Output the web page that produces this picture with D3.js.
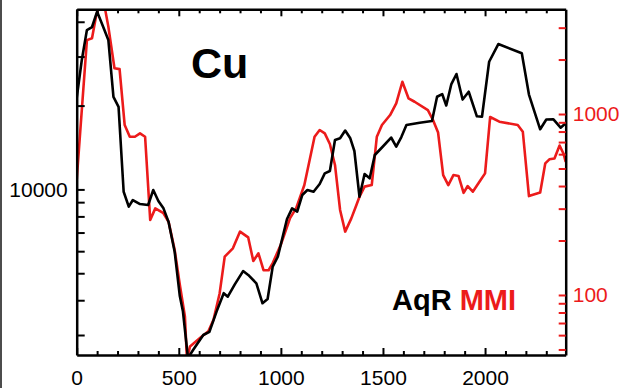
<!DOCTYPE html>
<html>
<head>
<meta charset="utf-8">
<script src="https://cdn.jsdelivr.net/npm/d3@7"></script>
<style>
  body { margin: 0; background: #fff; }
  svg { display: block; font-family: "Liberation Sans", Arial, sans-serif; }
</style>
</head>
<body>
<svg id="drawing_region"></svg>
<script>
// depth axis (bottom)
const xTicks = [0, 500, 1000, 1500, 2000];

// AqR (black, left log axis)
const aqrX = [0, 25, 50, 75, 100, 130, 155, 180, 205, 230, 255, 275, 310, 350, 375, 400, 425, 450, 480, 505,
  520, 545, 570, 620, 650, 685, 720, 740, 775, 815, 840, 880, 910, 935, 960, 985, 1030, 1055, 1080, 1105,
  1130, 1160, 1190, 1215, 1240, 1265, 1290, 1315, 1340, 1360, 1385, 1410, 1435, 1460, 1495, 1540, 1565, 1590, 1615, 1680,
  1740, 1765, 1790, 1810, 1835, 1860, 1890, 1920, 1960, 1985, 2020, 2065, 2180, 2215, 2270, 2300, 2335, 2370, 2395];
const aqrY = [21300, 29150, 37360, 38300, 43500, 38300, 34400, 21500, 19800, 9810, 8670, 9160, 8860, 8790, 9950, 9090, 8550, 7640, 5960, 4140,
  3660, 2480, 2650, 3000, 3080, 3640, 4240, 4120, 4570, 5090, 4930, 4600, 3900, 4040, 5280, 5730, 7830, 8550, 8320, 9550,
  9950, 9810, 10460, 11420, 11640, 15040, 15260, 16270, 15260, 13740, 9410, 11360, 10960, 13290, 14140, 15360, 14240, 15420, 17030, 17360,
  17600, 21520, 22000, 20010, 23900, 25970, 21020, 22430, 18300, 18240, 28740, 33270, 30820, 21910, 16440, 17820, 17850, 16660, 17270];

// MMI (red, right log axis)
const mmiX = [0, 50, 75, 95, 120, 140, 155, 185, 210, 235, 260, 285, 310, 335, 360, 385, 425, 450, 480, 505,
  530, 540, 555, 605, 645, 670, 700, 725, 765, 800, 840, 865, 890, 915, 940, 960, 1000, 1045, 1075, 1115,
  1165, 1190, 1215, 1240, 1265, 1290, 1315, 1345, 1370, 1385, 1410, 1445, 1470, 1495, 1535, 1565, 1595, 1625, 1655, 1720,
  1745, 1770, 1795, 1820, 1845, 1870, 1895, 1915, 1940, 1975, 2000, 2025, 2070, 2160, 2185, 2215, 2270, 2295, 2315, 2340,
  2365, 2385, 2395];
const mmiY = [432, 2560, 2620, 3480, 4270, 3750, 3040, 1790, 1770, 869, 749, 749, 782, 749, 260, 301, 283, 254, 177, 114,
  76, 44, 52, 58, 63, 73, 102, 163, 181, 224, 208, 154, 170, 137, 137, 150, 190, 266, 302, 405,
  749, 816, 782, 683, 523, 295, 224, 265, 314, 349, 397, 405, 749, 869, 987, 1146, 1508, 1221, 1169, 1052,
  927, 790, 460, 405, 460, 455, 367, 400, 372, 426, 470, 963, 907, 869, 798, 352, 368, 534, 562, 568,
  670, 601, 543];

const leftTicks = [3000, 4000, 5000, 6000, 7000, 8000, 9000, 10000, 20000, 30000, 40000];
const leftLabels = [10000];
const rightTicks = [50, 60, 70, 80, 90, 100, 200, 300, 400, 500, 600, 700, 800, 900, 1000, 2000, 3000];
const rightLabels = [100, 1000];

const RED = '#ec1b1b';

class DualLogChart {
    constructor(config) {
        this.config = config;
        this.init();
    }

    init() {
        let self = this;
        const c = self.config;

        self.svg = d3.select(c.parent)
            .attr('width', c.width)
            .attr('height', c.height);

        // thin frame line at the very left of the picture
        self.svg.append('line')
            .attr('x1', 1).attr('x2', 1)
            .attr('y1', 0).attr('y2', c.height)
            .attr('stroke', '#111').attr('stroke-width', 1.5);

        self.chart = self.svg.append('g')
            .attr('transform', `translate(${c.margin.left},${c.margin.top})`);

        self.inner_width = c.width - c.margin.left - c.margin.right;
        self.inner_height = c.height - c.margin.top - c.margin.bottom;

        self.xscale = d3.scaleLinear()
            .domain([0, 2395])
            .range([0, self.inner_width]);
        self.yleft = d3.scaleLog()
            .domain([2543, 44340])
            .range([self.inner_height, 0]);
        self.yright = d3.scaleLog()
            .domain([46.6, 3790])
            .range([self.inner_height, 0]);

        self.chart.append('clipPath').attr('id', 'plotclip')
            .append('rect')
            .attr('width', self.inner_width)
            .attr('height', self.inner_height);
    }

    render() {
        let self = this;
        const w = self.inner_width, h = self.inner_height;
        const minorX = d3.range(0, 2400, 100);

        const lines = self.chart.append('g').attr('clip-path', 'url(#plotclip)');

        const aqrLine = d3.line()
            .x((d, i) => self.xscale(aqrX[i]))
            .y(d => self.yleft(d));
        const mmiLine = d3.line()
            .x((d, i) => self.xscale(mmiX[i]))
            .y(d => self.yright(d));

        lines.append('path')
            .attr('d', mmiLine(mmiY))
            .attr('fill', 'none')
            .attr('stroke', RED)
            .attr('stroke-width', 2.6)
            .attr('stroke-linejoin', 'round');

        lines.append('path')
            .attr('d', aqrLine(aqrY))
            .attr('fill', 'none')
            .attr('stroke', '#000')
            .attr('stroke-width', 2.6)
            .attr('stroke-linejoin', 'round');

        // bottom axis
        const xb = self.chart.append('g')
            .attr('transform', `translate(0,${h})`)
            .call(d3.axisBottom(self.xscale)
                .tickValues(minorX)
                .tickSizeInner(-4)
                .tickSizeOuter(0)
                .tickPadding(15)
                .tickFormat(d => xTicks.includes(d) ? d : ''));
        xb.selectAll('.tick line').filter(d => xTicks.includes(d)).attr('y2', -7);

        // top axis
        const xt = self.chart.append('g')
            .call(d3.axisTop(self.xscale)
                .tickValues(minorX)
                .tickSizeInner(-4)
                .tickSizeOuter(0)
                .tickFormat(''));
        xt.selectAll('.tick line').filter(d => xTicks.includes(d)).attr('y2', 7);

        // left axis
        self.chart.append('g')
            .call(d3.axisLeft(self.yleft)
                .tickValues(leftTicks)
                .tickSizeInner(-8)
                .tickSizeOuter(0)
                .tickPadding(9)
                .tickFormat(d => leftLabels.includes(d) ? d : ''));

        // right axis (red ticks, black line)
        const yr = self.chart.append('g')
            .attr('transform', `translate(${w},0)`)
            .call(d3.axisRight(self.yright)
                .tickValues(rightTicks)
                .tickSizeInner(-7)
                .tickSizeOuter(0)
                .tickPadding(7)
                .tickFormat(d => rightLabels.includes(d) ? d : ''));
        yr.selectAll('.tick line').attr('stroke', RED);
        yr.selectAll('.tick text').attr('fill', RED);

        self.chart.selectAll('.domain')
            .attr('stroke', '#000')
            .attr('stroke-width', 2.5);
        self.chart.selectAll('.tick line').attr('stroke-width', 2);
        self.chart.selectAll('.tick text')
            .attr('font-size', 21)
            .attr('font-family', '"Liberation Sans", Arial, sans-serif');

        // title
        self.svg.append('text')
            .attr('x', 191).attr('y', 78)
            .attr('font-size', 43)
            .attr('font-weight', 'bold')
            .text('Cu');

        // legend
        const leg = self.svg.append('text')
            .attr('x', 392).attr('y', 310)
            .attr('font-size', 29)
            .attr('font-weight', 'bold');
        leg.append('tspan').attr('fill', '#000').text('AqR ');
        leg.append('tspan').attr('fill', RED).text('MMI');
    }
}

const chart = new DualLogChart({
    parent: '#drawing_region',
    width: 625,
    height: 388,
    margin: { top: 9.3, right: 59.3, bottom: 33, left: 76.7 }
});
chart.render();
</script>
</body>
</html>
